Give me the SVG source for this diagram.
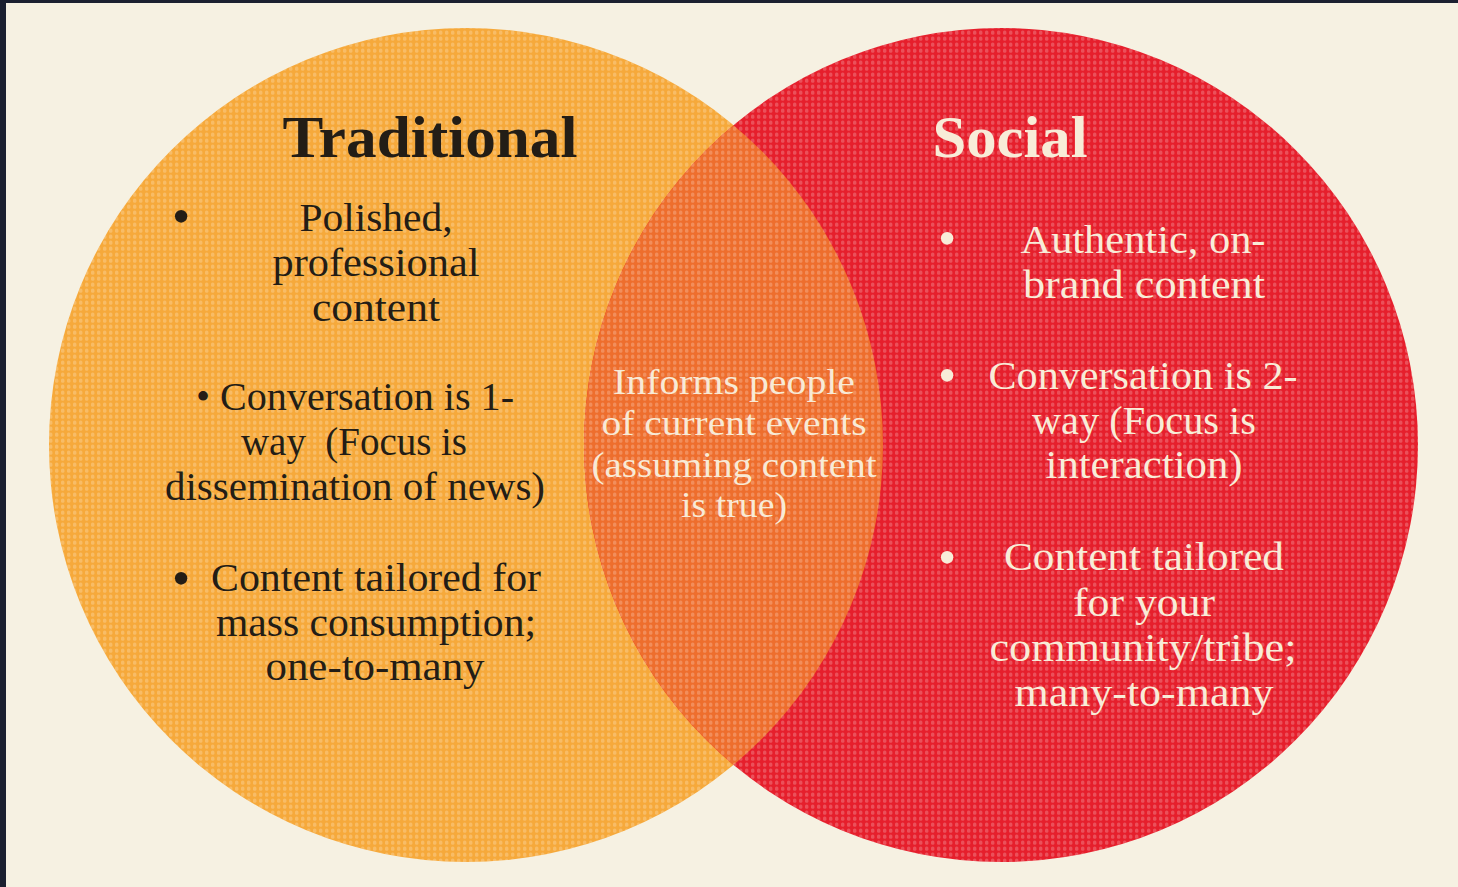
<svg xmlns="http://www.w3.org/2000/svg" width="1458" height="887" viewBox="0 0 1458 887">
  <style>
    .title { font-family: "Liberation Serif", "Times New Roman", serif; font-weight: bold; font-size: 60px; text-anchor: middle; }
    .body { font-family: "Liberation Serif", "Times New Roman", serif; font-size: 40px; text-anchor: middle; }
    .bullet { font-family: "Liberation Serif", "Times New Roman", serif; font-size: 52px; text-anchor: middle; }
    .mid { font-family: "Liberation Serif", "Times New Roman", serif; font-size: 35px; text-anchor: middle; fill: #f8ead6; }
    .dark { fill: #231d16; }
    .light { fill: #f8ecd8; }
  </style>
  <defs>
    <!-- woven canvas texture: a grid of soft light dots -->
    <pattern id="weave" width="6" height="6" patternUnits="userSpaceOnUse">
      <rect x="1" y="0.5" width="3.4" height="4.2" rx="1.5" fill="#ffffff" opacity="0.22"/>
    </pattern>
    <clipPath id="leftClip">
      <circle cx="466" cy="445" r="417"/>
    </clipPath>
  </defs>

  <!-- page -->
  <rect x="0" y="0" width="1458" height="887" fill="#f6f1e2"/>
  <rect x="0" y="0" width="1458" height="3" fill="#1b2030"/>
  <rect x="0" y="0" width="6" height="887" fill="#1b2030"/>

  <!-- Traditional circle -->
  <g id="traditional">
    <circle cx="466" cy="445" r="417" fill="#f6a93b"/>
    <circle cx="466" cy="445" r="417" fill="url(#weave)"/>
  </g>

  <!-- Social circle -->
  <g id="social">
    <circle cx="1001" cy="445" r="417" fill="#e61f2c"/>
    <circle cx="1001" cy="445" r="417" fill="url(#weave)"/>
  </g>

  <!-- shared region -->
  <g id="overlap" clip-path="url(#leftClip)">
    <circle cx="1001" cy="445" r="417" fill="#ee6e2d"/>
    <circle cx="1001" cy="445" r="417" fill="url(#weave)"/>
  </g>

  <g id="connectors"/>

  <!-- Traditional text -->
  <g id="traditional-text" class="dark">
    <text class="title dark" x="430" y="157" textLength="295" lengthAdjust="spacingAndGlyphs">Traditional</text>
    <text class="bullet dark" x="181" y="234">•</text>
    <text class="body dark" x="376" y="231" textLength="153" lengthAdjust="spacingAndGlyphs">Polished,</text>
    <text class="body dark" x="376" y="276" textLength="207" lengthAdjust="spacingAndGlyphs">professional</text>
    <text class="body dark" x="376" y="321" textLength="128" lengthAdjust="spacingAndGlyphs">content</text>
    <text class="body dark" x="355" y="410" textLength="318" lengthAdjust="spacingAndGlyphs">• Conversation is 1-</text>
    <text class="body dark" x="354" y="455" textLength="226" lengthAdjust="spacingAndGlyphs" xml:space="preserve">way  (Focus is</text>
    <text class="body dark" x="355" y="500" textLength="380" lengthAdjust="spacingAndGlyphs">dissemination of news)</text>
    <text class="bullet dark" x="181" y="596">•</text>
    <text class="body dark" x="376" y="591" textLength="330" lengthAdjust="spacingAndGlyphs">Content tailored for</text>
    <text class="body dark" x="376" y="636" textLength="320" lengthAdjust="spacingAndGlyphs">mass consumption;</text>
    <text class="body dark" x="375" y="680" textLength="219" lengthAdjust="spacingAndGlyphs">one-to-many</text>
  </g>

  <!-- shared text -->
  <g id="overlap-text">
    <text class="mid" x="734" y="394" textLength="242" lengthAdjust="spacingAndGlyphs">Informs people</text>
    <text class="mid" x="734" y="435" textLength="265" lengthAdjust="spacingAndGlyphs">of current events</text>
    <text class="mid" x="734" y="477" textLength="285" lengthAdjust="spacingAndGlyphs">(assuming content</text>
    <text class="mid" x="734" y="517" textLength="106" lengthAdjust="spacingAndGlyphs">is true)</text>
  </g>

  <!-- Social text -->
  <g id="social-text">
    <text class="title light" x="1010" y="157" textLength="155" lengthAdjust="spacingAndGlyphs">Social</text>
    <text class="bullet light" x="947" y="256">•</text>
    <text class="body light" x="1143" y="253" textLength="245" lengthAdjust="spacingAndGlyphs">Authentic, on-</text>
    <text class="body light" x="1144" y="298" textLength="242" lengthAdjust="spacingAndGlyphs">brand content</text>
    <text class="bullet light" x="947" y="393">•</text>
    <text class="body light" x="1143" y="389" textLength="309" lengthAdjust="spacingAndGlyphs">Conversation is 2-</text>
    <text class="body light" x="1144" y="434" textLength="224" lengthAdjust="spacingAndGlyphs">way (Focus is</text>
    <text class="body light" x="1144" y="478" textLength="197" lengthAdjust="spacingAndGlyphs">interaction)</text>
    <text class="bullet light" x="947" y="575">•</text>
    <text class="body light" x="1144" y="570" textLength="280" lengthAdjust="spacingAndGlyphs">Content tailored</text>
    <text class="body light" x="1144" y="616" textLength="142" lengthAdjust="spacingAndGlyphs">for your</text>
    <text class="body light" x="1143" y="661" textLength="307" lengthAdjust="spacingAndGlyphs">community/tribe;</text>
    <text class="body light" x="1144" y="706" textLength="259" lengthAdjust="spacingAndGlyphs">many-to-many</text>
  </g>
</svg>
